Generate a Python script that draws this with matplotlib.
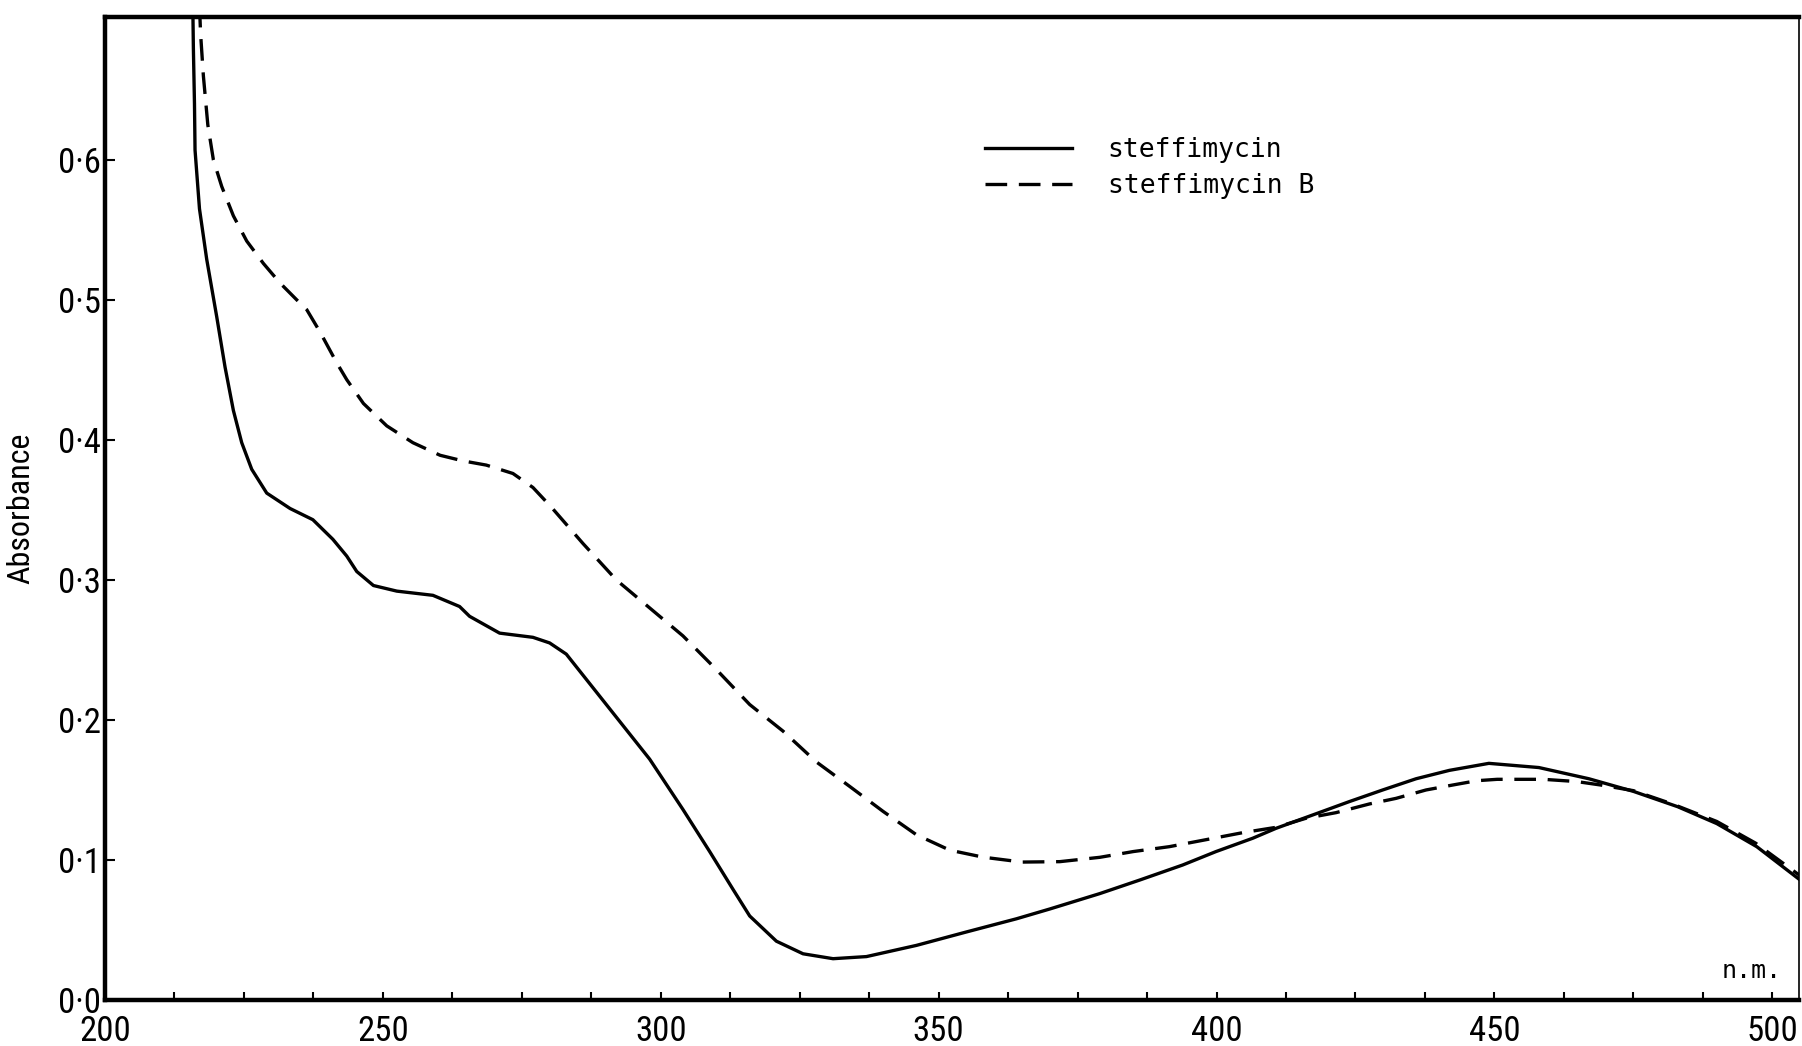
import numpy as np
import matplotlib
matplotlib.use('Agg')
import matplotlib.pyplot as plt
from matplotlib.ticker import MultipleLocator, FixedLocator

# absorption spectra, wavelength in nm
wl_steff = [215.8, 215.9, 216.1, 216.2, 217.0, 218.3, 220.1, 221.6, 223.1, 224.6, 226.4, 229.1,
            233.3, 237.4, 241.0, 243.5, 245.3, 248.3, 252.5, 259.0, 263.8, 265.6,
            271.0, 277.0, 280.0, 283.0, 287.2, 292.0, 298.0, 304.0, 308.8, 313.0,
            316.0, 320.8, 325.6, 331.0, 337.0, 346.0, 355.0, 364.0, 370.0, 379.0,
            386.2, 393.9, 399.9, 406.5, 410.7, 417.9, 423.9, 429.9, 435.9, 441.9,
            449.0, 458.0, 467.0, 475.0, 483.0, 490.0, 497.2, 505.0, 506.0]
abs_steff = [0.71, 0.68, 0.64, 0.607, 0.565, 0.529, 0.488, 0.452, 0.421, 0.398, 0.379, 0.362,
             0.351, 0.343, 0.329, 0.317, 0.306, 0.296, 0.292, 0.289, 0.281, 0.274,
             0.262, 0.259, 0.255, 0.247, 0.226, 0.202, 0.172, 0.136, 0.106, 0.079,
             0.060, 0.042, 0.033, 0.0295, 0.031, 0.039, 0.0486, 0.058, 0.065, 0.076,
             0.0857, 0.0964, 0.106, 0.1155, 0.1226, 0.133, 0.1417, 0.150, 0.158, 0.164,
             0.169, 0.166, 0.158, 0.149, 0.138, 0.126, 0.1095, 0.0857, 0.082]

wl_steff_b = [217.0, 217.2, 217.7, 218.5, 219.5, 221.0, 223.1, 225.5, 228.5, 231.5, 234.5, 236.3,
              238.7, 241.7, 243.5, 246.5, 250.7, 255.4, 260.3, 264.4, 268.6, 273.4,
              277.0, 280.3, 286.0, 292.0, 298.0, 304.0, 310.0, 316.0, 322.0, 328.0,
              334.0, 340.0, 346.0, 352.0, 358.0, 365.0, 371.8, 379.0, 385.0, 391.5,
              397.2, 404.7, 410.7, 416.1, 421.5, 427.5, 432.3, 437.7, 442.6, 446.8,
              450.5, 458.8, 464.8, 469.0, 475.0, 482.0, 490.0, 497.0, 504.4, 506.0]
abs_steff_b = [0.71, 0.69, 0.66, 0.625, 0.600, 0.581, 0.560, 0.542, 0.526, 0.512, 0.500, 0.493,
               0.477, 0.455, 0.443, 0.426, 0.410, 0.398, 0.389, 0.385, 0.382, 0.376,
               0.366, 0.352, 0.326, 0.300, 0.280, 0.260, 0.236, 0.211, 0.192, 0.170,
               0.1525, 0.1347, 0.118, 0.107, 0.102, 0.0985, 0.0988, 0.1019, 0.106, 0.1095,
               0.1138, 0.1195, 0.1233, 0.1298, 0.1338, 0.140, 0.144, 0.150, 0.1536, 0.1566,
               0.1576, 0.1576, 0.156, 0.1536, 0.1495, 0.140, 0.1275, 0.112, 0.0905, 0.086]

x_ticks = [200, 250, 300, 350, 400, 450, 500]
x_labels = ['200', '250', '300', '350', '400', '450', '500']
y_ticks = [0.0, 0.1, 0.2, 0.3, 0.4, 0.5, 0.6]
y_labels = ['0·0', '0·1', '0·2', '0·3', '0·4', '0·5', '0·6']

num_font = ['Roboto Condensed', 'Liberation Sans Narrow', 'Liberation Sans', 'DejaVu Sans']
mono_font = ['DejaVu Sans Mono']

fig = plt.figure(figsize=(18.02, 10.46), dpi=100)
ax = fig.add_axes([105/1802, 1 - 1000/1046, (1799 - 105)/1802, (1000 - 17)/1046])

ax.plot(wl_steff, abs_steff, '-', color='black', lw=2.4, label='steffimycin')
ax.plot(wl_steff_b, abs_steff_b, '--', color='black', lw=2.4, dashes=(6.5, 3.5),
        label='steffimycin B')

ax.set_xlim(200, 504.8)
ax.set_ylim(0, 0.702)

for side in ['left', 'bottom', 'top']:
    ax.spines[side].set_linewidth(3.2)
ax.spines['right'].set_linewidth(1.2)

ax.xaxis.set_major_locator(FixedLocator(x_ticks))
ax.xaxis.set_minor_locator(MultipleLocator(12.5))
ax.yaxis.set_major_locator(FixedLocator(y_ticks))
ax.set_xticklabels(x_labels, family=num_font, fontsize=25)
ax.set_yticklabels(y_labels, family=num_font, fontsize=25)

ax.tick_params(axis='x', which='both', direction='in', length=6, width=1.5, pad=11)
ax.tick_params(axis='y', which='major', direction='in', length=7, width=1.5, pad=3)
ax.tick_params(top=False, right=False)

ax.set_ylabel('Absorbance', family=num_font, fontsize=23)
ax.yaxis.set_label_coords(-0.041, 0.5)

ax.text(490.8, 0.016, 'n.m.', family=mono_font, fontsize=18)

leg = ax.legend(loc='upper left', bbox_to_anchor=(0.5195, 0.878), frameon=False,
                prop={'family': mono_font, 'size': 19}, handlelength=3.3,
                handletextpad=1.35, labelspacing=0.38, borderpad=0, borderaxespad=0)

plt.savefig('out.png', dpi=100)
